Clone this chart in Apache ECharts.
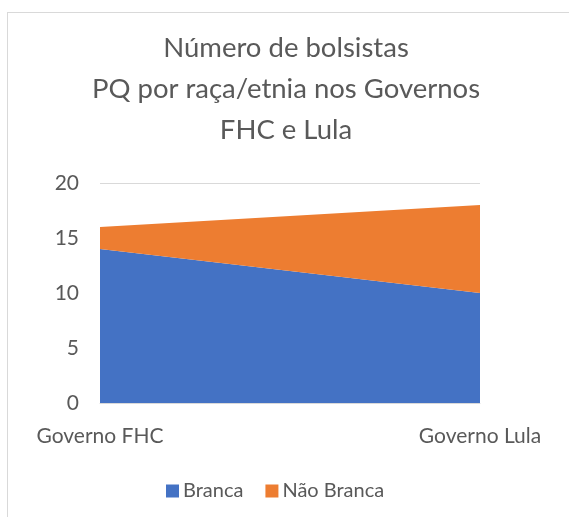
<!DOCTYPE html>
<html>
<head>
<meta charset="utf-8">
<script src="https://cdn.jsdelivr.net/npm/echarts@6/dist/echarts.min.js"></script>
<style>
  html, body { margin: 0; padding: 0; background: #fff; }
  .frame {
    position: absolute; left: 7px; top: 12px;
    width: 700px; height: 700px;
    border: 1px solid #d9d9d9;
  }
  #chart { position: absolute; left: 0; top: 0; width: 569px; height: 517px; }
</style>
</head>
<body>
<div class="frame"></div>
<div id="chart"></div>
<script>
  // dados do gráfico
  const categorias = ['Governo FHC', 'Governo Lula'];
  const branca = [14, 10];
  const naoBranca = [2, 8];
  const nomesSeries = ['Branca', 'Não Branca'];
  const titulo = 'Número de bolsistas\nPQ por raça/etnia nos Governos\nFHC e Lula';

  const fonte = 'Lato, "Open Sans", sans-serif';
  const cinza = '#595959';

  let myChart = echarts.init(document.getElementById('chart'));
  const option = {
    color: ['#4472C4', '#ED7D31'],
    animation: false,
    title: {
      text: titulo,
      left: 281,
      top: 23,
      textAlign: 'center',
      textStyle: {
        fontFamily: fonte,
        fontWeight: 'normal',
        fontSize: 27.5,
        lineHeight: 41,
        color: cinza
      }
    },
    legend: {
      data: nomesSeries,
      left: 161,
      top: 476,
      icon: 'rect',
      itemWidth: 13,
      itemHeight: 13,
      itemGap: 22,
      textStyle: {
        fontFamily: fonte,
        fontSize: 20,
        color: cinza,
        padding: [0, 0, 0, -1]
      }
    },
    grid: {
      left: 100,
      right: 89,
      top: 183,
      bottom: 114,
      containLabel: false
    },
    xAxis: {
      type: 'category',
      data: categorias,
      boundaryGap: false,
      axisLine: { lineStyle: { color: '#d9d9d9', width: 1 } },
      axisTick: { show: false },
      axisLabel: {
        fontFamily: fonte,
        fontSize: 21,
        color: cinza,
        margin: 23
      }
    },
    yAxis: {
      type: 'value',
      min: 0,
      max: 20,
      interval: 5,
      axisLine: { show: false },
      axisTick: { show: false },
      splitLine: { lineStyle: { color: '#d9d9d9', width: 1 } },
      axisLabel: {
        fontFamily: fonte,
        fontSize: 21,
        color: cinza,
        margin: 21
      }
    },
    series: [
      {
        name: nomesSeries[0],
        type: 'line',
        stack: 'total',
        data: branca,
        symbol: 'none',
        lineStyle: { width: 0 },
        areaStyle: { opacity: 1 }
      },
      {
        name: nomesSeries[1],
        type: 'line',
        stack: 'total',
        data: naoBranca,
        symbol: 'none',
        lineStyle: { width: 0 },
        areaStyle: { opacity: 1 }
      }
    ]
  };
  myChart.setOption(option);
  window.addEventListener('resize', function () {
    myChart.resize();
  });
</script>
</body>
</html>
